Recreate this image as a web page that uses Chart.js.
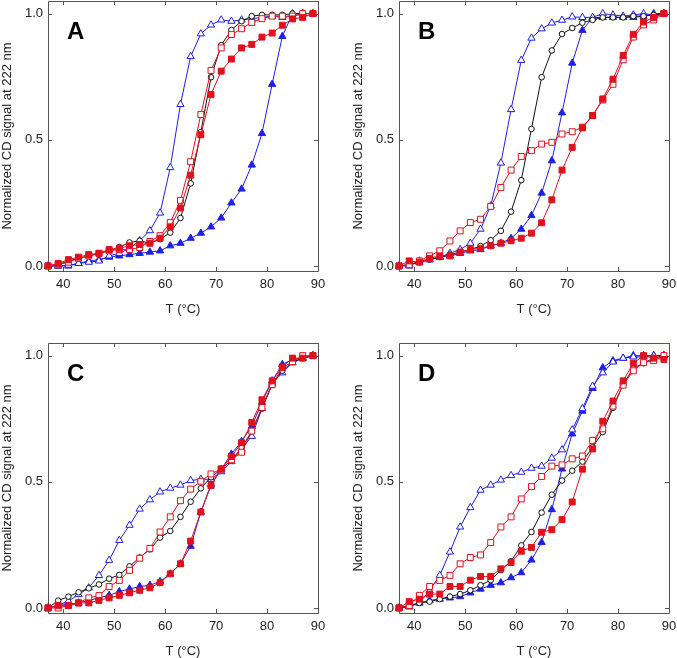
<!DOCTYPE html>
<html>
<head>
<meta charset="utf-8">
<script src="https://cdn.jsdelivr.net/npm/chart.js@4.4.1/dist/chart.umd.min.js"></script>
<style>
  html, body { margin: 0; padding: 0; background: #fff; }
  body { width: 677px; height: 658px; position: relative; overflow: hidden; }
  .panel { position: absolute; width: 330px; height: 317px; }
</style>
</head>
<body>
<div class="panel" style="left:0;top:0"><canvas id="chartA" width="330" height="317"></canvas></div>
<div class="panel" style="left:351px;top:0"><canvas id="chartB" width="330" height="317"></canvas></div>
<div class="panel" style="left:0;top:342px"><canvas id="chartC" width="330" height="317"></canvas></div>
<div class="panel" style="left:351px;top:342px"><canvas id="chartD" width="330" height="317"></canvas></div>
<script>
// temperatures (°C)
var temps = [37, 39, 41, 43, 45, 47, 49, 51, 53, 55, 57, 59, 61, 63, 65, 67, 69, 71, 73, 75, 77, 79, 81, 83, 85, 87, 89];
var xTickValues = [40, 50, 60, 70, 80, 90];
var yTickValues = [0, 0.5, 1.0];

// panel A
var aFilledSq  = [0, 0.01, 0.025, 0.035, 0.045, 0.05, 0.065, 0.07, 0.08, 0.085, 0.09, 0.11, 0.155, 0.23, 0.36, 0.52, 0.68, 0.772, 0.82, 0.864, 0.878, 0.907, 0.923, 0.954, 0.979, 0.985, 1.0];
var aOpenSq    = [0, 0.005, 0.015, 0.03, 0.04, 0.05, 0.06, 0.065, 0.066, 0.073, 0.097, 0.12, 0.172, 0.26, 0.413, 0.6, 0.775, 0.864, 0.917, 0.94, 0.965, 0.98, 0.99, 0.99, 0.99, 1.0, 1.0];
var aCircle    = [0, 0.005, 0.02, 0.03, 0.04, 0.05, 0.06, 0.075, 0.093, 0.1, 0.09, 0.106, 0.132, 0.19, 0.327, 0.53, 0.748, 0.875, 0.935, 0.97, 0.99, 0.995, 0.995, 0.995, 1.0, 1.0, 1.0];
var aOpenTri   = [0, 0, 0.003, 0.01, 0.015, 0.02, 0.04, 0.05, 0.07, 0.1, 0.14, 0.21, 0.39, 0.64, 0.83, 0.92, 0.955, 0.975, 0.97, 0.975, 0.98, 0.985, 0.99, 0.985, 0.99, 1.0, 1.0];
var aFilledTri = [0, 0, 0, 0.01, 0.02, 0.025, 0.035, 0.04, 0.045, 0.05, 0.055, 0.06, 0.08, 0.09, 0.11, 0.13, 0.155, 0.19, 0.25, 0.305, 0.4, 0.525, 0.72, 0.91, 1.0, 1.0, 1.0];

// panel B
var bFilledSq  = [0, 0.02, 0.015, 0.03, 0.04, 0.04, 0.055, 0.065, 0.07, 0.08, 0.09, 0.1, 0.11, 0.13, 0.171, 0.262, 0.38, 0.47, 0.547, 0.596, 0.662, 0.74, 0.834, 0.918, 0.967, 0.985, 1.0];
var bOpenSq    = [0, 0.005, 0.02, 0.04, 0.06, 0.099, 0.139, 0.172, 0.185, 0.236, 0.311, 0.38, 0.434, 0.457, 0.483, 0.49, 0.523, 0.532, 0.55, 0.596, 0.658, 0.72, 0.817, 0.907, 0.955, 0.975, 1.0];
var bCircle    = [0, 0.005, 0.015, 0.025, 0.035, 0.045, 0.055, 0.065, 0.079, 0.102, 0.139, 0.215, 0.34, 0.543, 0.748, 0.854, 0.919, 0.943, 0.964, 0.975, 0.985, 0.985, 0.985, 0.99, 0.99, 0.995, 1.0];
var bOpenTri   = [0, 0, 0.02, 0.025, 0.035, 0.05, 0.065, 0.09, 0.146, 0.238, 0.408, 0.62, 0.815, 0.903, 0.94, 0.963, 0.974, 0.987, 0.985, 0.985, 1.0, 0.995, 0.99, 0.995, 1.0, 0.995, 1.0];
var bFilledTri = [0, 0.005, 0.015, 0.025, 0.035, 0.04, 0.05, 0.06, 0.065, 0.08, 0.09, 0.109, 0.146, 0.2, 0.289, 0.417, 0.607, 0.804, 0.934, 0.984, 0.985, 0.985, 0.985, 0.985, 0.99, 1.0, 1.0];

// panel C
var cFilledSq  = [0, 0.01, 0.01, 0.02, 0.02, 0.03, 0.04, 0.05, 0.06, 0.07, 0.08, 0.1, 0.135, 0.175, 0.265, 0.38, 0.485, 0.55, 0.6, 0.655, 0.735, 0.825, 0.9, 0.955, 0.99, 0.99, 1.0];
var cOpenSq    = [0, 0, 0.01, 0.02, 0.04, 0.049, 0.085, 0.109, 0.149, 0.197, 0.236, 0.301, 0.361, 0.425, 0.471, 0.502, 0.531, 0.551, 0.587, 0.617, 0.701, 0.794, 0.885, 0.952, 0.976, 1.0, 1.0];
var cCircle    = [0, 0.029, 0.045, 0.062, 0.078, 0.093, 0.116, 0.131, 0.165, 0.2, 0.232, 0.279, 0.305, 0.361, 0.421, 0.474, 0.518, 0.55, 0.585, 0.635, 0.7, 0.79, 0.885, 0.94, 0.975, 0.99, 1.0];
var cOpenTri   = [0, 0.01, 0.027, 0.053, 0.08, 0.129, 0.189, 0.268, 0.328, 0.392, 0.429, 0.46, 0.475, 0.487, 0.505, 0.51, 0.51, 0.54, 0.58, 0.63, 0.68, 0.79, 0.89, 0.932, 0.972, 0.99, 1.0];
var cFilledTri = [0, 0.01, 0.015, 0.02, 0.03, 0.04, 0.05, 0.065, 0.075, 0.085, 0.09, 0.105, 0.135, 0.175, 0.245, 0.38, 0.49, 0.55, 0.61, 0.66, 0.72, 0.815, 0.9, 0.965, 0.985, 0.99, 1.0];

// panel D
var dFilledSq  = [0, 0.025, 0.035, 0.055, 0.055, 0.085, 0.085, 0.11, 0.125, 0.125, 0.155, 0.18, 0.225, 0.24, 0.3, 0.31, 0.35, 0.42, 0.55, 0.63, 0.74, 0.82, 0.9, 0.97, 1.0, 0.99, 0.985];
var dOpenSq    = [0, 0.01, 0.05, 0.085, 0.109, 0.129, 0.175, 0.2, 0.21, 0.259, 0.321, 0.361, 0.432, 0.481, 0.521, 0.562, 0.567, 0.591, 0.602, 0.664, 0.71, 0.8, 0.883, 0.94, 0.972, 0.98, 1.0];
var dCircle    = [0, 0.01, 0.02, 0.025, 0.035, 0.045, 0.055, 0.07, 0.09, 0.11, 0.15, 0.185, 0.248, 0.301, 0.378, 0.449, 0.505, 0.544, 0.58, 0.637, 0.697, 0.793, 0.886, 0.95, 0.97, 0.99, 1.0];
var dOpenTri   = [0, 0.005, 0.02, 0.069, 0.129, 0.222, 0.321, 0.398, 0.467, 0.487, 0.507, 0.525, 0.538, 0.554, 0.562, 0.594, 0.627, 0.706, 0.79, 0.879, 0.932, 0.975, 0.99, 0.995, 0.995, 1.0, 1.0];
var dFilledTri = [0, 0.005, 0.02, 0.03, 0.035, 0.04, 0.045, 0.06, 0.075, 0.09, 0.1, 0.12, 0.14, 0.19, 0.26, 0.39, 0.551, 0.69, 0.78, 0.87, 0.952, 0.98, 0.99, 1.0, 1.0, 1.0, 1.0];

var RED = "#e3101c", BLUE = "#1f1fe6", BLACK = "#111";
var FONT = "'Liberation Sans', Arial, Helvetica, sans-serif";

// frame, inside ticks and panel letter
var framePlugin = {
	id: 'frame',
	beforeDatasetsDraw: function (chart, args, opts) {
		var ctx = chart.ctx, a = chart.chartArea, x = chart.scales.x, y = chart.scales.y;
		ctx.save();
		ctx.strokeStyle = '#555';
		ctx.lineWidth = 1;
		ctx.beginPath();
		ctx.rect(Math.round(a.left) + 0.5, Math.round(a.top) + 0.5, Math.round(a.width), Math.round(a.height));
		x.ticks.forEach(function (t) {
			var px = Math.round(x.getPixelForValue(t.value)) + 0.5;
			ctx.moveTo(px, a.bottom); ctx.lineTo(px, a.bottom - 4);
			ctx.moveTo(px, a.top); ctx.lineTo(px, a.top + 4);
		});
		y.ticks.forEach(function (t) {
			var py = Math.round(y.getPixelForValue(t.value)) + 0.5;
			ctx.moveTo(a.left, py); ctx.lineTo(a.left + 4, py);
			ctx.moveTo(a.right, py); ctx.lineTo(a.right - 4, py);
		});
		ctx.stroke();
		ctx.fillStyle = '#000';
		ctx.font = 'bold 24px ' + FONT;
		ctx.textBaseline = 'alphabetic';
		ctx.fillText(opts.letter, a.left + 19, a.top + 38);
		ctx.restore();
	}
};

function series(vals, color, style, open) {
	return {
		data: temps.map(function (t, i) { return { x: t, y: vals[i] }; }),
		borderColor: color,
		borderWidth: 1,
		pointStyle: style,
		pointRadius: style === 'circle' ? 2.8 : 4.2,
		pointBorderWidth: 1,
		pointBorderColor: color,
		pointBackgroundColor: open ? '#fff' : color,
		tension: 0,
		clip: false
	};
}

function makePanel(id, letter, filledSq, openSq, circle, openTri, filledTri) {
	var ctx = document.getElementById(id);
	return new Chart(ctx, {
		type: 'line',
		data: {
			datasets: [
				series(filledSq, RED, 'rect', false),
				series(openSq, RED, 'rect', true),
				series(circle, BLACK, 'circle', true),
				series(openTri, BLUE, 'triangle', true),
				series(filledTri, BLUE, 'triangle', false)
			]
		},
		options: {
			responsive: false,
			animation: false,
			devicePixelRatio: 1,
			layout: { autoPadding: false, padding: { left: 0, top: 1, right: 12, bottom: 0 } },
			plugins: {
				legend: { display: false },
				tooltip: { enabled: false },
				frame: { letter: letter }
			},
			scales: {
				x: {
					type: 'linear',
					min: 37,
					max: 90,
					afterBuildTicks: function (s) { s.ticks = xTickValues.map(function (v) { return { value: v }; }); },
					afterFit: function (s) { s.height = 46; s.paddingLeft = 0; s.paddingRight = 0; },
					grid: { display: false, drawTicks: false },
					border: { display: false },
					ticks: { color: '#222', padding: 6, maxRotation: 0, font: { family: FONT, size: 13 } },
					title: { display: true, text: 'T (°C)', color: '#222', padding: 0, font: { family: FONT, size: 13 } }
				},
				y: {
					type: 'linear',
					min: -0.02,
					max: 1.05,
					afterBuildTicks: function (s) { s.ticks = yTickValues.map(function (v) { return { value: v }; }); },
					afterFit: function (s) { s.width = 48; s.paddingTop = 0; s.paddingBottom = 0; },
					grid: { display: false, drawTicks: false },
					border: { display: false },
					ticks: {
						color: '#222', padding: 5, font: { family: FONT, size: 13 },
						callback: function (v) { return Number(v).toFixed(1); }
					},
					title: { display: true, text: 'Normalized CD signal at 222 nm', color: '#222', padding: 0, font: { family: FONT, size: 13 } }
				}
			}
		},
		plugins: [framePlugin]
	});
}

makePanel('chartA', 'A', aFilledSq, aOpenSq, aCircle, aOpenTri, aFilledTri);
makePanel('chartB', 'B', bFilledSq, bOpenSq, bCircle, bOpenTri, bFilledTri);
makePanel('chartC', 'C', cFilledSq, cOpenSq, cCircle, cOpenTri, cFilledTri);
makePanel('chartD', 'D', dFilledSq, dOpenSq, dCircle, dOpenTri, dFilledTri);
</script>
</body>
</html>
